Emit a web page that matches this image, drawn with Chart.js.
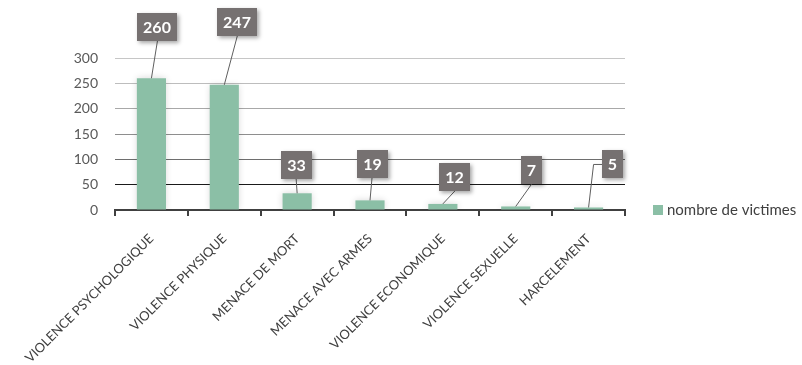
<!DOCTYPE html>
<html>
<head>
<meta charset="utf-8">
<script src="https://cdn.jsdelivr.net/npm/chart.js@4.4.0/dist/chart.umd.min.js"></script>
<style>
  html, body { margin: 0; padding: 0; background: #ffffff; }
  #wrap { width: 802px; height: 365px; position: relative; }
</style>
</head>
<body>
<div id="wrap"><canvas id="chart" width="802" height="365"></canvas></div>
<script>
// Types de violences et nombre de victimes
const categories = [
  'VIOLENCE PSYCHOLOGIQUE',
  'VIOLENCE PHYSIQUE',
  'MENACE DE MORT',
  'MENACE AVEC ARMES',
  'VIOLENCE ECONOMIQUE',
  'VIOLENCE SEXUELLE',
  'HARCELEMENT'
];
const victims = [260, 247, 33, 19, 12, 7, 5];
const seriesName = 'nombre de victimes';
const yTickValues = [0, 50, 100, 150, 200, 250, 300];

// Callout placement relative to the top of each bar (pixels)
const calloutOffsets = [[6, -51], [13, -63], [-1, -28], [2, -36], [12, -27], [16, -36], [24, -43]];
const calloutElbow = [false, false, false, false, false, false, true];

// Gridline colours by value
const gridColorByValue = { 0: 'rgba(0,0,0,0)', 50: '#1a1a1a', 100: '#6e6e6e', 150: '#8e8e8e', 200: '#a8a8a8', 250: '#bdbdbd', 300: '#c6c6c6' };

const BAR_COLOR = '#8bbfa6';
const FONT = 'Lato, "Open Sans", sans-serif';

// Soft glow behind the bars
const barShadow = {
  id: 'barShadow',
  beforeDatasetsDraw(chart) {
    const ctx = chart.ctx;
    ctx.save();
    ctx.shadowColor = 'rgba(0,0,0,0.16)';
    ctx.shadowBlur = 7;
    ctx.shadowOffsetX = 0;
    ctx.shadowOffsetY = 0;
  },
  afterDatasetsDraw(chart) {
    chart.ctx.restore();
  }
};

// Grey value boxes with leader lines
const callouts = {
  id: 'callouts',
  afterDatasetsDraw(chart) {
    const meta = chart.getDatasetMeta(0);
    const ctx = chart.ctx;
    ctx.save();
    ctx.font = 'bold 16px ' + FONT;
    meta.data.forEach((bar, i) => {
      const text = String(victims[i]);
      const [dx, dy] = calloutOffsets[i];
      const cx = bar.x + dx;
      const cy = bar.y + dy;
      const tw = ctx.measureText(text).width;
      const w = Math.round(tw + 12);
      const h = 28;
      const left = Math.round(cx - w / 2);
      const top = Math.round(cy - h / 2);

      ctx.strokeStyle = '#5f5f5f';
      ctx.lineWidth = 1;
      ctx.beginPath();
      if (calloutElbow[i]) {
        ctx.moveTo(left, cy);
        ctx.lineTo(bar.x + 5, cy);
        ctx.lineTo(bar.x, bar.y);
      } else {
        ctx.moveTo(cx, top + h);
        ctx.lineTo(bar.x, bar.y);
      }
      ctx.stroke();

      ctx.save();
      ctx.shadowColor = 'rgba(0,0,0,0.35)';
      ctx.shadowBlur = 4;
      ctx.shadowOffsetX = 2;
      ctx.shadowOffsetY = 2;
      ctx.fillStyle = '#767171';
      ctx.fillRect(left, top, w, h);
      ctx.restore();

      ctx.fillStyle = '#ffffff';
      ctx.textAlign = 'center';
      ctx.textBaseline = 'middle';
      ctx.fillText(text, left + w / 2, top + h / 2 + 1);
    });
    ctx.restore();
  }
};

// Legend on the right, level with the category axis
const sideLegend = {
  id: 'sideLegend',
  afterDraw(chart) {
    const ctx = chart.ctx;
    const y = chart.chartArea.bottom;
    ctx.save();
    ctx.fillStyle = BAR_COLOR;
    ctx.fillRect(653, y - 5, 10, 10);
    ctx.fillStyle = '#404040';
    ctx.font = '15px ' + FONT;
    ctx.textAlign = 'left';
    ctx.textBaseline = 'middle';
    ctx.fillText(seriesName, 667, y);
    ctx.restore();
  }
};

new Chart(document.getElementById('chart'), {
  type: 'bar',
  data: {
    labels: categories,
    datasets: [{
      label: seriesName,
      data: victims,
      backgroundColor: BAR_COLOR,
      borderWidth: 0,
      categoryPercentage: 1,
      barPercentage: 0.4
    }]
  },
  options: {
    responsive: false,
    animation: false,
    devicePixelRatio: 1,
    layout: { padding: { top: 58, right: 177, left: 0, bottom: 0 } },
    plugins: {
      legend: { display: false },
      tooltip: { enabled: false }
    },
    scales: {
      x: {
        afterFit(scale) { scale.height = 155; },
        border: { display: true, color: '#404040', width: 2 },
        grid: {
          display: true,
          offset: true,
          drawOnChartArea: false,
          drawTicks: true,
          tickLength: 6,
          color: '#404040',
          lineWidth: 2
        },
        ticks: {
          autoSkip: false,
          minRotation: 45,
          maxRotation: 45,
          padding: 15,
          color: '#404040',
          font: { family: FONT, size: 13 }
        }
      },
      y: {
        min: 0,
        max: 300,
        afterFit(scale) { scale.width = 115; },
        afterBuildTicks(scale) { scale.ticks = yTickValues.map(v => ({ value: v })); },
        border: { display: false },
        grid: {
          drawTicks: false,
          lineWidth: 1,
          color: (c) => gridColorByValue[c.tick.value] || '#bfbfbf'
        },
        ticks: {
          padding: 17,
          color: '#595959',
          font: { family: FONT, size: 14 }
        }
      }
    }
  },
  plugins: [barShadow, callouts, sideLegend]
});
</script>
</body>
</html>
